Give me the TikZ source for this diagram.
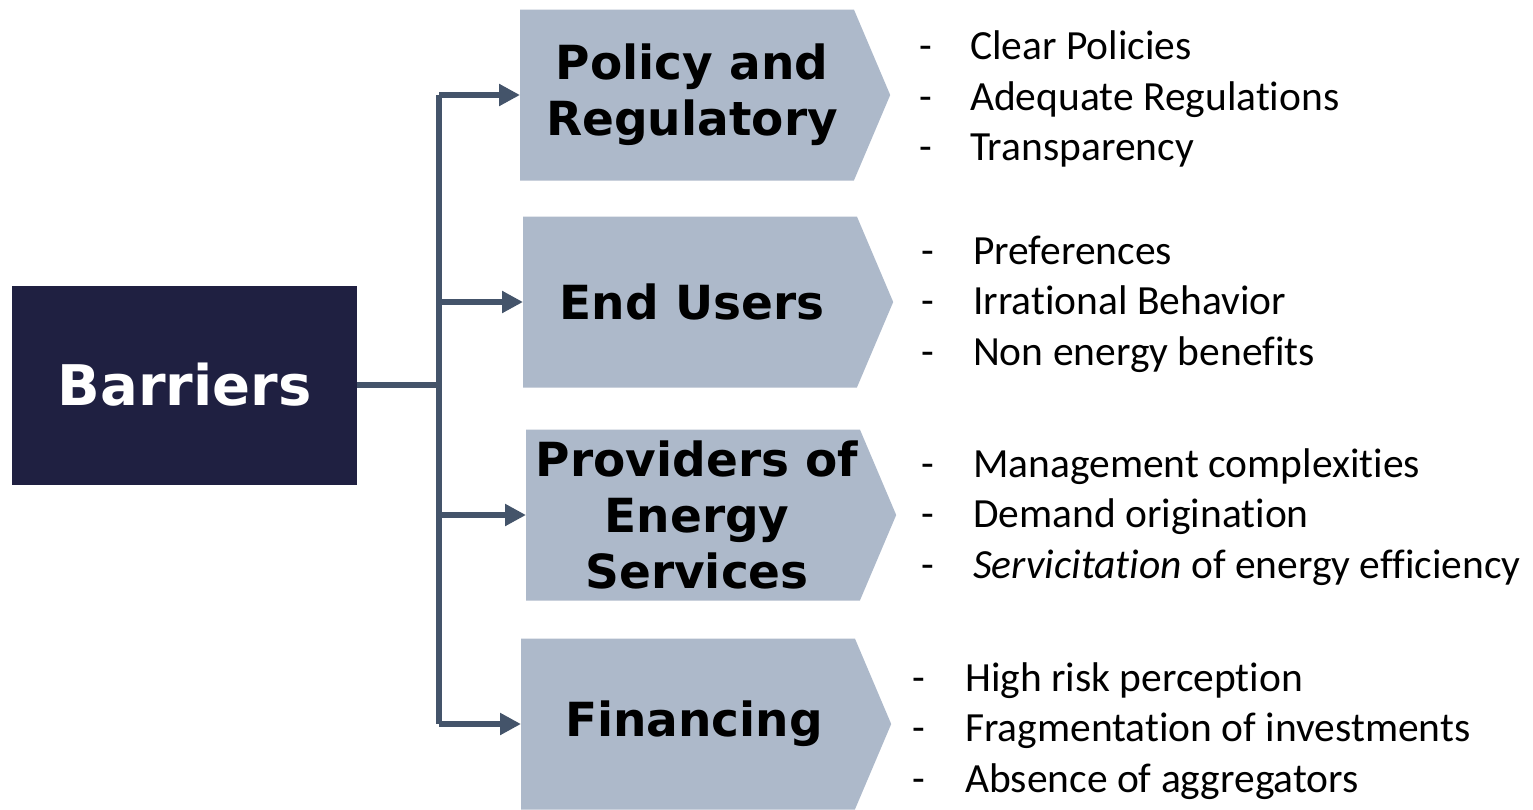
\documentclass[tikz,border=0pt]{standalone}
\usepackage{fontspec}
\setmainfont{Carlito}[Ligatures=NoCommon]
\newfontfamily\headfont{DejaVu Sans}
\usetikzlibrary{shapes.symbols,arrows.meta}
\definecolor{navy}{HTML}{1F2041}
\definecolor{chevron}{HTML}{ADB9CA}
\definecolor{wire}{HTML}{44546A}

\begin{document}
\begin{tikzpicture}[x=1pt,y=-1pt,
    root_node/.style={fill=navy,text=white,minimum width=345pt,minimum height=199pt,inner sep=0pt,font=\headfont\bfseries\fontsize{56}{60}\selectfont},
    main_node/.style={signal,signal to=east,signal pointer angle=134,fill=chevron,minimum width=370pt,minimum height=171pt,inner sep=0pt,anchor=west,align=center,font=\headfont\bfseries\fontsize{47}{56}\selectfont},
    list_node/.style={anchor=west,inner sep=0pt,align=left,font=\fontsize{41.5}{50.5}\selectfont},
    link/.style={draw=wire,line width=6pt},
    arrow/.style={link,-{Triangle[length=21pt,width=21pt]}}]

    \useasboundingbox (0,0) rectangle (1533,809);

    \node[root_node] (0) at (184.5,385) {Barriers};
    \node[main_node] (1) at (520,95) {\kern10pt Policy and\\\kern10pt Regulatory};
    \node[main_node] (2) at (523,302) {\kern4pt End Users};
    \node[main_node] (3) at (526,515) {\kern8pt Providers of\\\kern8pt Energy\\\kern8pt Services};
    \node[main_node] (4) at (521,724) {\kern12pt Financing};

    \node[list_node] (5) at (919,99) {\makebox[51pt][l]{-}Clear Policies\\\makebox[51pt][l]{-}Adequate Regulations\\\makebox[51pt][l]{-}Transparency};
    \node[list_node] (6) at (921,304) {\makebox[52pt][l]{-}Preferences\\\makebox[52pt][l]{-}Irrational Behavior\\\makebox[52pt][l]{-}Non energy benefits};
    \node[list_node] (7) at (921,517) {\makebox[52pt][l]{-}Management complexities\\\makebox[52pt][l]{-}Demand origination\\\makebox[52pt][l]{-}\textit{Servicitation} of energy efficiency};
    \node[list_node] (8) at (912,731) {\makebox[53pt][l]{-}High risk perception\\\makebox[53pt][l]{-}Fragmentation of investments\\\makebox[53pt][l]{-}Absence of aggregators};

    \coordinate (j) at (439,385);
    \draw[link] (0.east) -- (j);
    \draw[link] (1.west -| j) -- (4.west -| j);
    \draw[arrow] (1.west -| j) -- (1.west);
    \draw[arrow] (2.west -| j) -- (2.west);
    \draw[arrow] (3.west -| j) -- (3.west);
    \draw[arrow] (4.west -| j) -- (4.west);
\end{tikzpicture}
\end{document}
